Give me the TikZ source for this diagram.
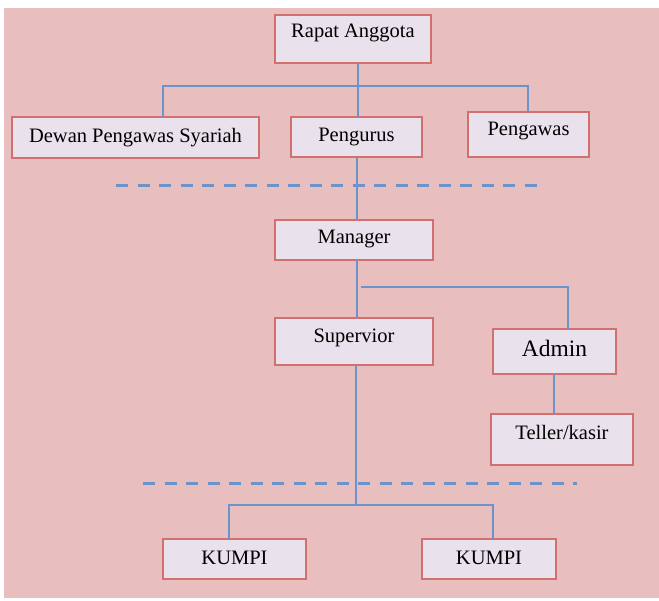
\documentclass[tikz,border=0pt]{standalone}
\usepackage{fontspec}
\setmainfont{Liberation Serif}
\definecolor{bgpink}{RGB}{232,190,190}
\definecolor{boxfill}{RGB}{233,226,236}
\definecolor{boxline}{RGB}{210,112,112}
\definecolor{conn}{RGB}{108,148,202}
\begin{document}
\begin{tikzpicture}[x=1pt,y=-1pt,
  box/.style={draw=boxline,line width=1.6pt,fill=boxfill,anchor=north west,
    inner xsep=0pt,inner ysep=0pt,outer sep=0pt,align=center,
    font=\fontsize{20.5}{24}\selectfont},
  link/.style={draw=conn,line width=1.5pt},
  sep/.style={draw=conn,line width=3pt,dash pattern=on 12pt off 9.5pt}]
\useasboundingbox (0,0) rectangle (659,601);
\fill[white] (0,0) rectangle (659,601);
\fill[bgpink] (4,8) rectangle (659,598);
% boxes
\node[box,minimum width=156pt,text height=23pt,text depth=25pt] (rapat) at (275,15) {Rapat Anggota};
\node[box,minimum width=247pt,text height=26pt,text depth=15pt] (dewan) at (12,117) {Dewan Pengawas Syariah};
\node[box,minimum width=131pt,text height=25pt,text depth=15pt] (pengurus) at (291,117) {Pengurus};
\node[box,minimum width=121pt,text height=24pt,text depth=21pt] (pengawas) at (468,112) {Pengawas};
\node[box,minimum width=158pt,text height=24pt,text depth=16pt] (manager) at (275,220) {Manager};
\node[box,minimum width=158pt,text height=25pt,text depth=22pt] (supervior) at (275,318) {Supervior};
\node[box,minimum width=123pt,text height=28pt,text depth=17pt,font=\fontsize{23.5}{28}\selectfont] (admin) at (493,329) {Admin};
\node[box,minimum width=142pt,text height=26pt,text depth=25pt] (teller) at (491,414) {Teller/kasir};
\node[box,minimum width=143pt,text height=25pt,text depth=15pt] (kumpi1) at (163,539) {KUMPI};
\node[box,minimum width=134pt,text height=25pt,text depth=15pt] (kumpi2) at (422,539) {KUMPI};
% junctions
\coordinate (jtop) at (358,86);
\coordinate (jleft) at (163,86);
\coordinate (jright) at (528,86);
\coordinate (jbranch) at (361,287);
\coordinate (jadmin) at (568,287);
\coordinate (jbot) at (356,505);
\coordinate (jk1) at (229,505);
\coordinate (jk2) at (493,505);
% dashed separators
\coordinate (s1a) at (116,186); \coordinate (s1b) at (537,186);
\coordinate (s2a) at (143,484); \coordinate (s2b) at (577,484);
\draw[sep] (s1a) -- (s1b);
\draw[sep] (s2a) -- (s2b);
% connectors
\draw[link] (jtop |- rapat.south) -- (jtop) -- (jtop |- pengurus.north);
\draw[link] (jleft |- dewan.north) -- (jleft) -- (jright) -- (jright |- pengawas.north);
\draw[link] (pengurus.south -| 357,0) -- (manager.north -| 357,0);
\draw[link] (manager.south -| 357,0) -- (supervior.north -| 357,0);
\draw[link] (jbranch) -- (jadmin) -- (jadmin |- admin.north);
\draw[link] (admin.south -| 554,0) -- (teller.north -| 554,0);
\draw[link] (supervior.south -| jbot) -- (jbot);
\draw[link] (jk1 |- kumpi1.north) -- (jk1) -- (jk2) -- (jk2 |- kumpi2.north);
\end{tikzpicture}
\end{document}
